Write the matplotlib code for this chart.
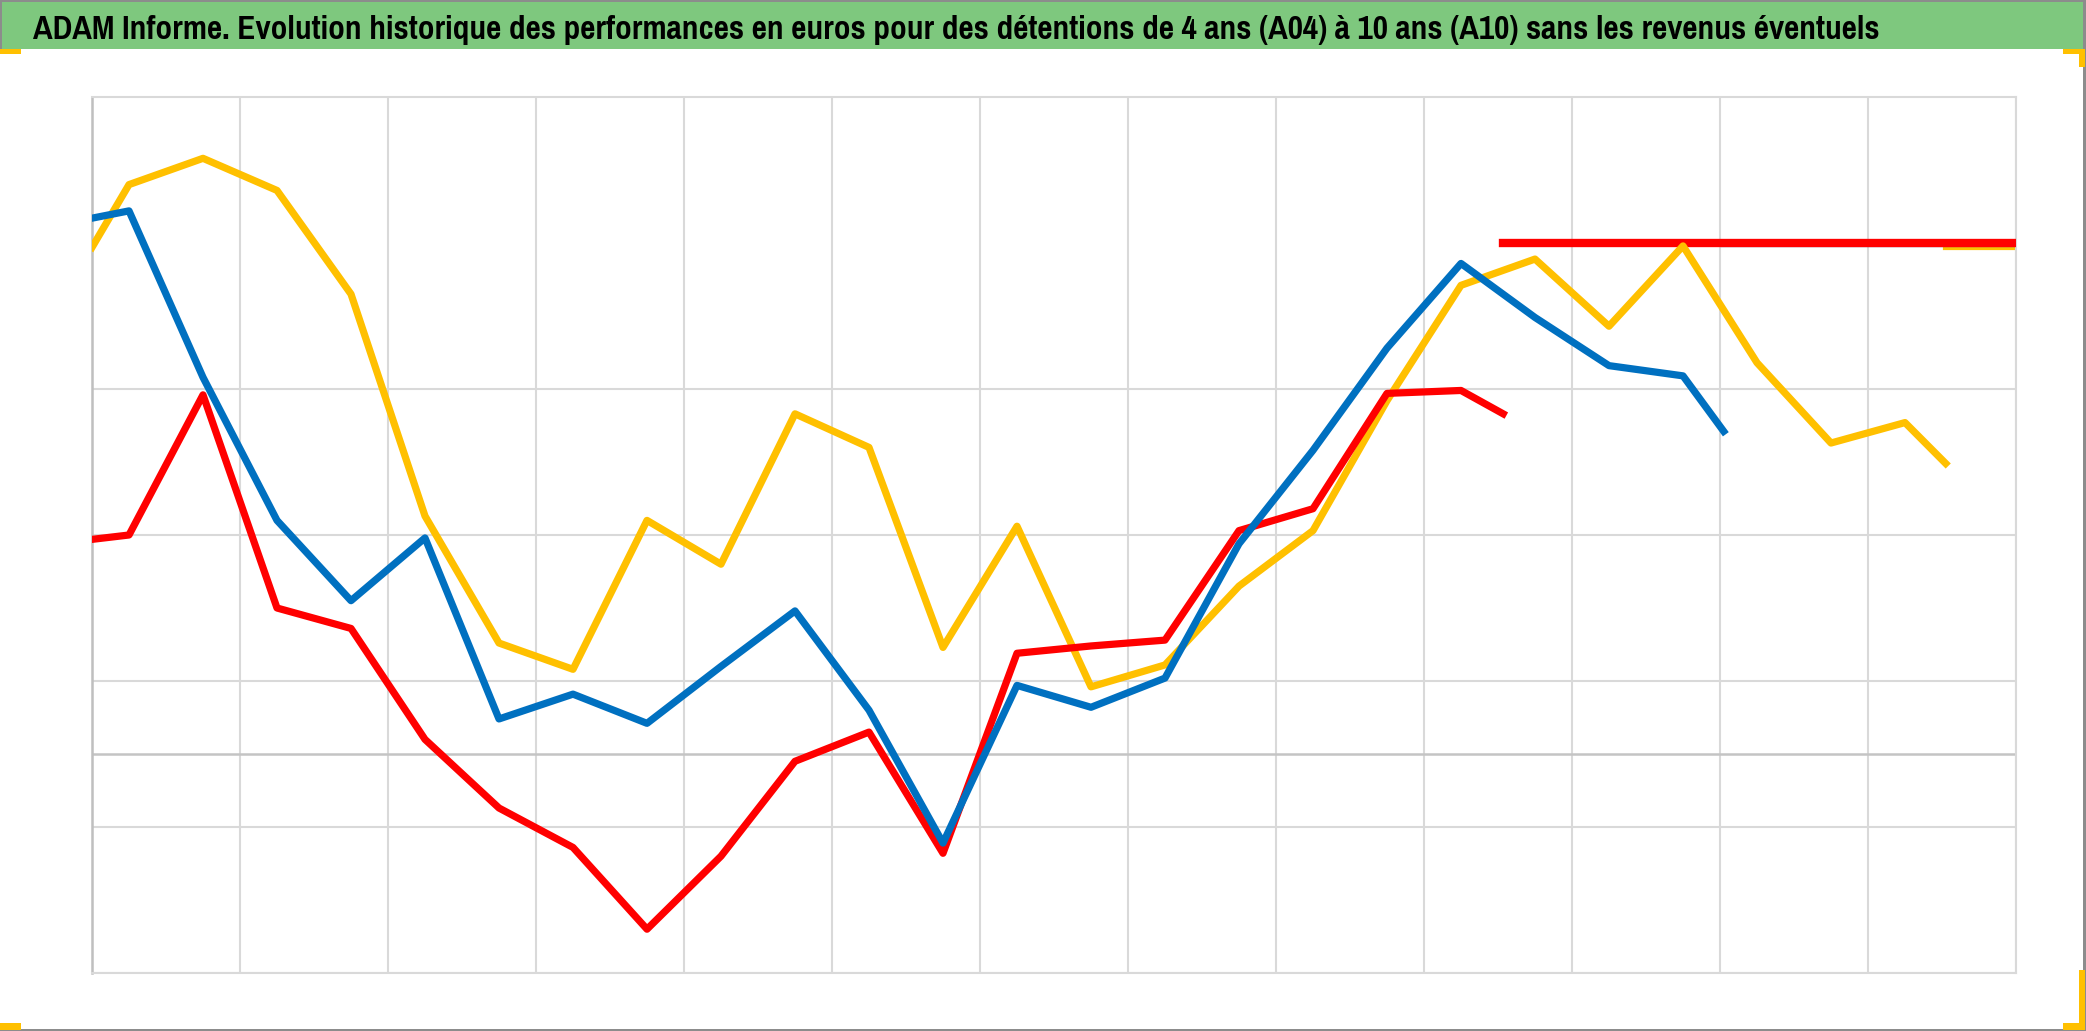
import matplotlib
matplotlib.use("Agg")
import matplotlib.pyplot as plt
from matplotlib import font_manager
from matplotlib.patches import Rectangle
import numpy as np

W, H = 2086, 1031

# years since start of the axis (gridline every 2 years), values in %
t_a04 = [0, 0.5, 1.5, 2.5, 3.5, 4.5, 5.5, 6.5, 7.5, 8.5, 9.5, 10.5, 11.5, 12.5,
         13.5, 14.5, 15.5, 16.5, 17.5, 18.5, 19.5, 20.5, 21.5, 22.5, 23.5, 24.5, 25.05]
a04 = [34.7, 39.0, 40.8, 38.6, 31.5, 16.3, 7.6, 5.8, 16.0, 13.0, 23.3, 21.0, 7.3, 15.6,
       4.6, 6.1, 11.5, 15.3, 24.2, 32.1, 33.9, 29.3, 34.8, 26.8, 21.3, 22.7, 19.9]

t_a07 = [0, 0.5, 1.5, 2.5, 3.5, 4.5, 5.5, 6.5, 7.5, 8.5, 9.5, 10.5, 11.5, 12.5,
         13.5, 14.5, 15.5, 16.5, 17.5, 18.5, 19.5, 20.5, 21.5, 22.05]
a07 = [36.7, 37.2, 25.8, 16.0, 10.5, 14.8, 2.4, 4.1, 2.1, 6.0, 9.8, 3.0, -6.1, 4.7,
       3.2, 5.2, 14.4, 20.8, 27.8, 33.6, 29.9, 26.6, 25.9, 22.1]

t_a10 = [0, 0.5, 1.5, 2.5, 3.5, 4.5, 5.5, 6.5, 7.5, 8.5, 9.5, 10.5, 11.5, 12.5,
         13.5, 14.5, 15.5, 16.5, 17.5, 18.5, 19.07]
a10 = [14.7, 15.0, 24.6, 10.0, 8.6, 1.0, -3.7, -6.4, -12.0, -7.0, -0.5, 1.5, -6.8, 6.9,
       7.4, 7.8, 15.3, 16.8, 24.7, 24.9, 23.3]

# flat segments after the end of each series
t_flat_a04 = [25.05, 26]
flat_a04 = [34.8, 34.8]
t_flat_a07 = [22.05, 26]
flat_a07 = [35.0, 35.0]
t_flat_a10 = [19.07, 26]
flat_a10 = [35.0, 35.0]

title = ("ADAM Informe. Evolution historique des performances en euros pour des "
         "détentions de 4 ans (A04) à 10 ans (A10) sans les revenus éventuels")

YELLOW = "#FFC000"
BLUE = "#0070C0"
RED = "#FF0000"
GREEN = "#7EC87E"

# look for a narrow / condensed bold face for the title
title_font = None
for f in font_manager.fontManager.ttflist:
    narrow = ("Narrow" in f.name or "Condensed" in f.name
              or str(f.stretch) in ("condensed", "semi-condensed", "extra-condensed")
              or (isinstance(f.stretch, int) and f.stretch < 500))
    bold = f.weight in ("bold", 700) or (isinstance(f.weight, int) and f.weight >= 600)
    if narrow and bold:
        if title_font is None or "Narrow" in f.name:
            title_font = f.fname
if title_font:
    tprops = font_manager.FontProperties(fname=title_font)
else:
    tprops = font_manager.FontProperties(family="DejaVu Sans", weight="bold",
                                         stretch="condensed")

fig = plt.figure(figsize=(W / 100, H / 100), dpi=100)
fig.patch.set_facecolor("white")


def px_rect(x0, y0, x1, y1, color, z=5):
    # rectangle in figure pixel coords (y from top)
    fig.add_artist(Rectangle((x0 / W, 1 - y1 / H), (x1 - x0) / W, (y1 - y0) / H,
                             transform=fig.transFigure, facecolor=color,
                             edgecolor="none", zorder=z))


# title bar
px_rect(0, 0, 2085, 49, GREEN, z=1)
# outer border
px_rect(0, 0, 2086, 2, "#8C8C8C")
px_rect(0, 0, 2, 49, "#8C8C8C")
px_rect(2083, 0, 2086, 1031, "#8C8C8C")
px_rect(0, 1029, 2086, 1031, "#8C8C8C")
# selection handles
px_rect(0, 49, 21, 54, YELLOW, z=6)
px_rect(2063, 49, 2085, 54, YELLOW, z=6)
px_rect(2079, 49, 2085, 67, YELLOW, z=6)
px_rect(0, 1023, 21, 1030, YELLOW, z=6)
px_rect(2063, 1023, 2085, 1030, YELLOW, z=6)
px_rect(2079, 970, 2085, 1030, YELLOW, z=6)

txt = fig.text(33 / W, 1 - 39 / H, title, fontproperties=tprops,
               color="black", ha="left", va="baseline")
txt.set_fontsize(24)
fig.canvas.draw()
bb = txt.get_window_extent()
txt.set_fontsize(24 * 1844 / bb.width)

left, right, top, bottom = 92, 2016, 97, 973
ax = fig.add_axes([left / W, 1 - bottom / H, (right - left) / W, (bottom - top) / H])
ax.set_xlim(0, 26)
ax.set_ylim(-15, 45)
ax.set_xticks(np.arange(0, 27, 2))
ax.set_yticks([-15, -5, 5, 15, 25])
ax.tick_params(length=0, labelbottom=False, labelleft=False)
ax.grid(True, color="#D9D9D9", linewidth=1.5, zorder=0)
ax.set_axisbelow(True)
for s in ["top", "bottom", "right"]:
    ax.spines[s].set_color("#D9D9D9")
    ax.spines[s].set_linewidth(1.5)
ax.spines["left"].set_color("#BFBFBF")
ax.spines["left"].set_linewidth(1.8)
ax.axhline(0, color="#C4C4C4", linewidth=1.8, zorder=1)

lw = 5.2
ax.plot(t_flat_a04, flat_a04, color=YELLOW, linewidth=lw, zorder=2)
ax.plot(t_flat_a07, flat_a07, color=BLUE, linewidth=lw, zorder=2)
ax.plot(t_flat_a10, flat_a10, color=RED, linewidth=6, zorder=3)
ax.plot(t_a04, a04, color=YELLOW, linewidth=lw, zorder=3)
ax.plot(t_a10, a10, color=RED, linewidth=lw, zorder=4)
ax.plot(t_a07, a07, color=BLUE, linewidth=lw, zorder=5)

fig.savefig("out.png", dpi=100, facecolor="white")
